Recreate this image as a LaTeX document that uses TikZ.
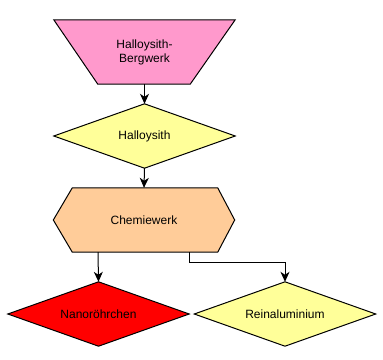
\documentclass[tikz,border=0pt]{standalone}
\usepackage{fontspec}
\setmainfont{Liberation Sans}
\usetikzlibrary{arrows.meta,calc,backgrounds}
\definecolor{pinkc}{HTML}{FF99CC}
\definecolor{yellowc}{HTML}{FFFF99}
\definecolor{orangec}{HTML}{FFCC99}
\definecolor{redc}{HTML}{FF0000}
\tikzset{
  box/.style={draw=none,inner sep=0pt,minimum width=181pt,minimum height=64pt,align=center,font=\fontsize{12}{14}\selectfont},
  outline/.style={draw=black,line width=1pt,line join=miter},
  arr/.style={draw=black,line width=1pt,-{Stealth[length=10pt,width=9pt,inset=3pt]}}
}
\begin{document}
\begin{tikzpicture}[x=1pt,y=-1pt]
\useasboundingbox (0,0) rectangle (383,359);
% nodes
\node[box] (mine) at (144.5,52) {Halloysith-\\Bergwerk};
\node[box] (hal) at (144.5,136) {Halloysith};
\node[box] (chem) at (144,220) {Chemiewerk};
\node[box] (nano) at (98.5,314) {Nanoröhrchen};
\node[box] (rein) at (285,314) {Reinaluminium};
% shapes behind the texts
\begin{scope}[on background layer]
\draw[outline,fill=pinkc] (mine.north west) -- (mine.north east) -- ($(mine.south east)+(-45,0)$) -- ($(mine.south west)+(44,0)$) -- cycle;
\draw[outline,fill=yellowc] (hal.west) -- (hal.north) -- (hal.east) -- (hal.south) -- cycle;
\draw[outline,fill=orangec] (chem.west) -- ($(chem.north west)+(19,0)$) -- ($(chem.north east)+(-17,0)$) -- (chem.east) -- ($(chem.south east)+(-17,0)$) -- ($(chem.south west)+(19,0)$) -- cycle;
\draw[outline,fill=redc] (nano.west) -- (nano.north) -- (nano.east) -- (nano.south) -- cycle;
\draw[outline,fill=yellowc] (rein.west) -- (rein.north) -- (rein.east) -- (rein.south) -- cycle;
\end{scope}
% connectors
\draw[arr] (mine.south) -- (hal.north);
\draw[arr] (hal.south) -- (chem.north);
\draw[arr] ($(chem.south)+(-46,0)$) -- (nano.north);
\coordinate (bend) at ($(chem.south)+(45,10)$);
\draw[arr] ($(chem.south)+(45,0)$) -- (bend) -| (rein.north);
\end{tikzpicture}
\end{document}
